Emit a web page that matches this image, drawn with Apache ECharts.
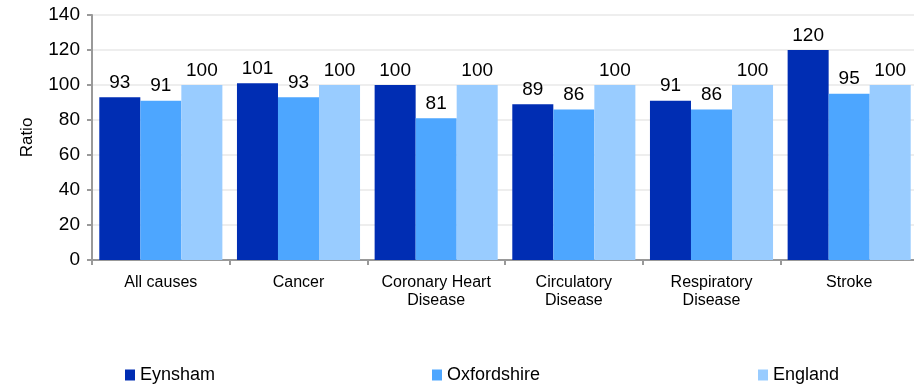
<!DOCTYPE html>
<html><head><meta charset="utf-8">
<script src="https://cdn.jsdelivr.net/npm/echarts@6/dist/echarts.min.js"></script>
<style>html,body{margin:0;padding:0;background:#fff;overflow:hidden}#c{width:918px;height:387px}</style>
</head><body><div id="c"></div>
<script>
const categories = ['All causes', 'Cancer', 'Coronary Heart\nDisease', 'Circulatory\nDisease', 'Respiratory\nDisease', 'Stroke'];
const seriesNames = ['Eynsham', 'Oxfordshire', 'England'];
const eynsham = [93, 101, 100, 89, 91, 120];
const oxfordshire = [91, 93, 81, 86, 86, 95];
const england = [100, 100, 100, 100, 100, 100];
const colors = ['#002DB3', '#4DA6FF', '#99CCFF'];
const values = [eynsham, oxfordshire, england];
const font = 'Liberation Sans, Arial, sans-serif';

const chart = echarts.init(document.getElementById('c'));
const legendLefts = [120, 427, 753];
chart.setOption({
  animation: false,
  textStyle: { fontFamily: font },
  grid: { left: 92, right: 0, top: 15, height: 245 },
  legend: seriesNames.map((n, i) => ({
    data: [n], left: legendLefts[i], top: 361, icon: 'rect', itemWidth: 10, itemHeight: 11, itemGap: 10,
    textStyle: { fontFamily: font, fontSize: 18, color: '#000', padding: [0, 0, 0, 0] }
  })),
  xAxis: {
    type: 'category', data: categories,
    axisLine: { lineStyle: { color: '#999', width: 2 } },
    axisTick: { show: true, length: 5, lineStyle: { color: '#999', width: 2 } },
    axisLabel: { color: '#000', fontSize: 16, margin: 14, lineHeight: 18, fontFamily: font, interval: 0 }
  },
  yAxis: {
    type: 'value', min: 0, max: 140, interval: 20,
    name: 'Ratio', nameLocation: 'middle', nameGap: 56, nameRotate: 90,
    nameTextStyle: { color: '#000', fontSize: 17, fontFamily: font },
    axisLine: { show: true, lineStyle: { color: '#999', width: 2 } },
    axisTick: { show: true, length: 5, lineStyle: { color: '#999', width: 2 } },
    axisLabel: { color: '#000', fontSize: 19, margin: 12, fontFamily: font },
    splitLine: { lineStyle: { color: '#eeeeee', width: 2 } }
  },
  series: seriesNames.map((n, i) => ({
    name: n, type: 'bar', data: values[i],
    barWidth: '29.8%', barGap: '0%', barCategoryGap: '10.6%',
    itemStyle: { color: colors[i] },
    label: { show: true, position: 'top', distance: 5, color: '#000', fontSize: 19, fontFamily: font }
  }))
});
</script></body></html>
